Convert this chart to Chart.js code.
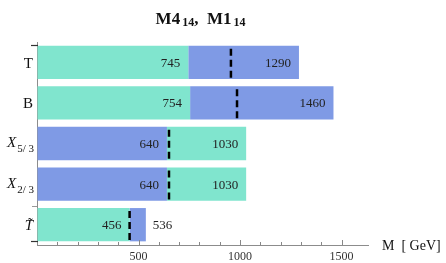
<!DOCTYPE html>
<html>
<head>
<meta charset="utf-8">
<script src="https://cdn.jsdelivr.net/npm/chart.js@4/dist/chart.umd.min.js"></script>
<style>
  html, body { margin: 0; padding: 0; background: #fff; }
  canvas { display: block; }
</style>
</head>
<body>
<canvas id="c" width="446" height="263"></canvas>
<script>
// ---- data ----
const categories = ['T', 'B', 'X5/3', 'X2/3', 'T\u0303'];
const labelMain = ['T', 'B', 'X', 'X', 'T\u0303'];
const labelSub = ['', '', '5/ 3', '2/ 3', ''];
const labelItalic = [false, false, true, true, true];
const greenSeg = [[0, 745], [0, 754], [640, 1030], [640, 1030], [0, 456]];
const blueSeg = [[745, 1290], [754, 1460], [0, 640], [0, 640], [456, 536]];
const dashValues = [955, 985, 650, 650, 456];
const xMin = 0, xMax = 1630;
const minorStep = 100, majorStep = 500;
const axisTitle = 'M  [ GeV]';

const GREEN = 'rgb(128,229,206)';
const BLUE = 'rgb(127,154,229)';
const SERIF = '"Liberation Serif", "DejaVu Serif", serif';

const overlay = {
  id: 'overlay',
  afterDraw(chart) {
    const ctx = chart.ctx;
    const xs = chart.scales.x, ys = chart.scales.y;
    const ca = chart.chartArea;
    const metaG = chart.getDatasetMeta(0), metaB = chart.getDatasetMeta(1);
    ctx.save();

    // dashed lines
    ctx.strokeStyle = '#000';
    ctx.lineWidth = 2.5;
    ctx.setLineDash([7, 4]);
    dashValues.forEach((v, i) => {
      const el = metaG.data[i];
      const h = el.height;
      const x = xs.getPixelForValue(v);
      ctx.beginPath();
      ctx.moveTo(x, el.y - h / 2 + 3);
      ctx.lineTo(x, el.y + h / 2 - 1);
      ctx.stroke();
    });
    ctx.setLineDash([]);

    // value labels
    ctx.font = '13px ' + SERIF;
    ctx.fillStyle = '#222';
    ctx.textBaseline = 'middle';
    [[greenSeg, metaG], [blueSeg, metaB]].forEach(([segs, meta]) => {
      segs.forEach((s, i) => {
        const el = meta.data[i];
        const x0 = xs.getPixelForValue(s[0]);
        const x1 = xs.getPixelForValue(s[1]);
        const txt = String(s[1]);
        if (x1 - x0 < 35) {
          ctx.textAlign = 'left';
          ctx.fillText(txt, x1 + 7, el.y + 1);
        } else {
          ctx.textAlign = 'right';
          ctx.fillText(txt, x1 - 8, el.y + 1);
        }
      });
    });

    // category labels
    categories.forEach((c, i) => {
      const y = ys.getPixelForValue(i);
      const right = 34;
      ctx.fillStyle = '#111';
      ctx.textBaseline = 'alphabetic';
      if (labelSub[i]) {
        ctx.font = '11px ' + SERIF;
        const sw = ctx.measureText(labelSub[i]).width;
        ctx.textAlign = 'right';
        ctx.fillText(labelSub[i], right, y + 8.5);
        ctx.font = 'italic 15px ' + SERIF;
        ctx.fillText(labelMain[i], right - sw - 1, y + 3.5);
      } else {
        ctx.font = (labelItalic[i] ? 'italic ' : '') + '15px ' + SERIF;
        ctx.textAlign = 'right';
        ctx.fillText(labelMain[i], right - 1, y + 5.5);
      }
    });

    // y-axis ticks
    const first = metaG.data[0], last = metaG.data[metaG.data.length - 1];
    ctx.lineWidth = 1.2;
    ctx.strokeStyle = '#333';
    [[first.y - first.height / 2 - 1, 7], [last.y + last.height / 2, 7]].forEach(([y, len]) => {
      ctx.beginPath(); ctx.moveTo(ca.left - len + 1, Math.round(y) + 0.5); ctx.lineTo(ca.left + 1, Math.round(y) + 0.5); ctx.stroke();
    });
    ctx.strokeStyle = '#999';
    ctx.lineWidth = 1;
    const yt = Math.round(last.y - last.height / 2 - 2) + 0.5;
    ctx.beginPath(); ctx.moveTo(ca.left - 5, yt); ctx.lineTo(ca.left, yt); ctx.stroke();

    // x-axis inward ticks
    ctx.strokeStyle = '#888';
    ctx.lineWidth = 1;
    xs.ticks.forEach(t => {
      const v = t.value;
      if (v % minorStep !== 0 || v === 0) return;
      const x = Math.round(xs.getPixelForValue(v)) + 0.5;
      const len = (v % majorStep === 0) ? 5 : 3;
      ctx.beginPath();
      ctx.moveTo(x, ca.bottom);
      ctx.lineTo(x, ca.bottom - len);
      ctx.stroke();
    });

    // axis title
    ctx.fillStyle = '#111';
    ctx.font = '14px ' + SERIF;
    ctx.textAlign = 'left';
    ctx.textBaseline = 'alphabetic';
    ctx.fillText(axisTitle, ca.right + 14, ca.bottom + 5);

    // title with subscripts
    const parts = [
      ['M4', 'bold 17px ' + SERIF, 0],
      ['14', 'bold 12px ' + SERIF, 2],
      [',  ', 'bold 17px ' + SERIF, 0],
      ['M1', 'bold 17px ' + SERIF, 0],
      ['14', 'bold 12px ' + SERIF, 2]
    ];
    let total = 0;
    parts.forEach(p => { ctx.font = p[1]; total += ctx.measureText(p[0]).width + (p[2] ? 2 : 0); });
    let x = (ca.left + ca.right) / 2 - total / 2 - 2;
    parts.forEach(p => {
      ctx.font = p[1];
      if (p[2]) x += 2;
      ctx.fillText(p[0], x, 24 + p[2]);
      x += ctx.measureText(p[0]).width;
    });

    ctx.restore();
  }
};

new Chart(document.getElementById('c'), {
  type: 'bar',
  data: {
    labels: categories,
    datasets: [
      { data: greenSeg, backgroundColor: GREEN, borderWidth: 0 },
      { data: blueSeg, backgroundColor: BLUE, borderWidth: 0 }
    ]
  },
  options: {
    indexAxis: 'y',
    responsive: false,
    animation: false,
    devicePixelRatio: 1,
    layout: { padding: { left: 37, right: 78, top: 42, bottom: 0 } },
    datasets: { bar: { grouped: false, categoryPercentage: 1, barPercentage: 0.82 } },
    plugins: { legend: { display: false }, tooltip: { enabled: false }, title: { display: false } },
    scales: {
      x: {
        type: 'linear', min: xMin, max: xMax,
        grid: { display: true, drawOnChartArea: false, drawTicks: false },
        border: { display: true, color: '#8c8c8c', width: 1 },
        afterFit: s => { s.height = 18; },
        ticks: {
          stepSize: minorStep, autoSkip: false, maxRotation: 0, padding: 6,
          font: { family: SERIF, size: 12, lineHeight: 1 }, color: '#333',
          callback: v => (v > 0 && v % majorStep === 0) ? String(v) : ''
        }
      },
      y: {
        grid: { display: false, drawTicks: false },
        border: { display: true, color: '#8c8c8c', width: 1 },
        ticks: { display: false }
      }
    }
  },
  plugins: [overlay]
});
</script>
</body>
</html>
